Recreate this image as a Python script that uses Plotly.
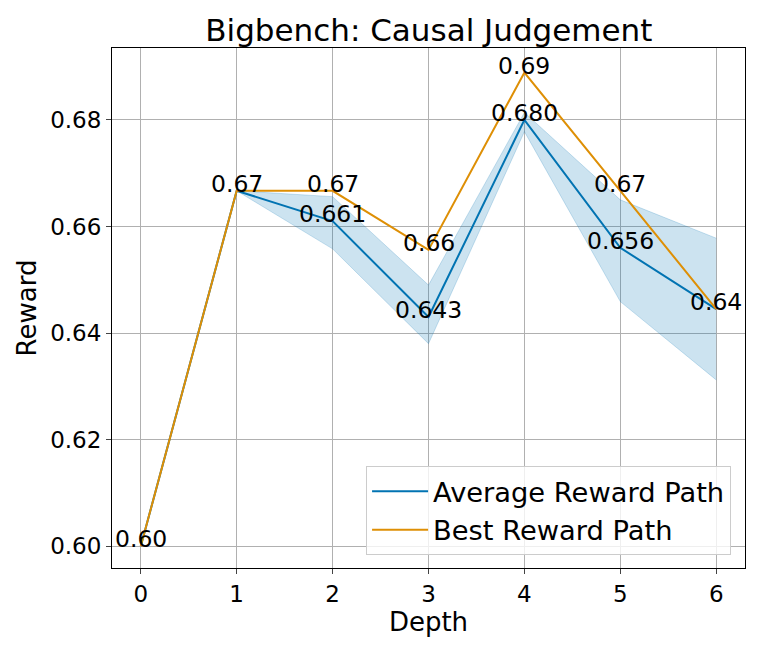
import plotly.graph_objects as go

# данные
depth = [0, 1, 2, 3, 4, 5, 6]
avg_reward = [0.600, 0.6667, 0.661, 0.643, 0.680, 0.656, 0.6445]
avg_upper = [0.600, 0.6667, 0.6656, 0.649, 0.6814, 0.665, 0.6578]
avg_lower = [0.600, 0.6667, 0.6558, 0.638, 0.6778, 0.6459, 0.6312]
best_reward = [0.600, 0.6667, 0.6667, 0.6556, 0.6889, 0.6667, 0.6445]

# подписи среднего не рисуются там, где оно совпадает с лучшим
avg_labels = ["" if a == b else "%.3f" % a for a, b in zip(avg_reward, best_reward)]
best_labels = ["%.2f" % v for v in best_reward]

blue = "#0173B2"
orange = "#DE8F05"

fig = go.Figure()

# полоса разброса
fig.add_trace(go.Scatter(x=depth, y=avg_upper, mode="lines",
                         line=dict(width=0.8, color="rgba(1,115,178,0.25)"),
                         showlegend=False, hoverinfo="skip"))
fig.add_trace(go.Scatter(x=depth, y=avg_lower, mode="lines", fill="tonexty",
                         fillcolor="rgba(1,115,178,0.2)",
                         line=dict(width=0.8, color="rgba(1,115,178,0.25)"),
                         showlegend=False, hoverinfo="skip"))

fig.add_trace(go.Scatter(x=depth, y=avg_reward, mode="lines", name="Average Reward Path",
                         line=dict(color=blue, width=2)))
fig.add_trace(go.Scatter(x=depth, y=best_reward, mode="lines", name="Best Reward Path",
                         line=dict(color=orange, width=2)))

# подписи значений: низ текста на точке
for xs, ys, labels in [(depth, avg_reward, avg_labels), (depth, best_reward, best_labels)]:
    for x, y, t in zip(xs, ys, labels):
        if t:
            fig.add_annotation(x=x, y=y, text=t, showarrow=False, xanchor="center",
                               yanchor="bottom", yshift=-9,
                               font=dict(size=23.5, color="black"))

fig.update_layout(
    width=761, height=653,
    margin=dict(l=104, r=24, t=40, b=93),
    paper_bgcolor="white", plot_bgcolor="white",
    font=dict(family="DejaVu Sans", size=23, color="black"),
    title=dict(text="Bigbench: Causal Judgement", x=0.553, xanchor="center",
               y=0.966, yanchor="middle", font=dict(size=31)),
    legend=dict(x=0.978, y=0.025, xanchor="right", yanchor="bottom", traceorder="normal",
                bgcolor="rgba(255,255,255,0.8)", bordercolor="#cccccc", borderwidth=1,
                itemwidth=56, font=dict(size=27.3)),
)
fig.update_xaxes(range=[-0.3, 6.3], tickvals=depth, title=dict(text="Depth", font=dict(size=26), standoff=4),
                 showline=True, mirror=True, linecolor="black", linewidth=1,
                 showgrid=True, gridcolor="#b0b0b0", gridwidth=1,
                 ticks="outside", ticklen=5, zeroline=False)
fig.update_yaxes(range=[0.5959, 0.6935], tickvals=[0.60, 0.62, 0.64, 0.66, 0.68], tickformat=".2f",
                 title=dict(text="Reward", font=dict(size=26), standoff=6),
                 showline=True, mirror=True, linecolor="black", linewidth=1,
                 showgrid=True, gridcolor="#b0b0b0", gridwidth=1,
                 ticks="outside", ticklen=5, zeroline=False)

fig.write_html("out.html")
